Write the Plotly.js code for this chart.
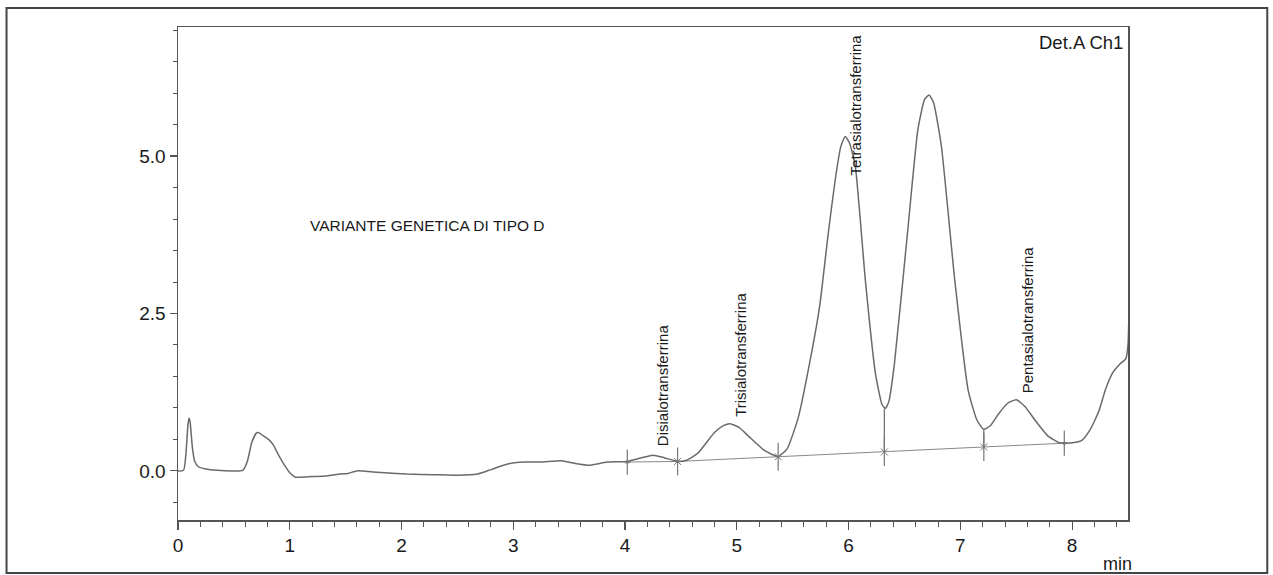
<!DOCTYPE html>
<html>
<head>
<meta charset="utf-8">
<script src="https://cdn.plot.ly/plotly-3.0.1.min.js"></script>
<style>html,body{margin:0;padding:0;background:#fff;}#chart{width:1273px;height:575px;}</style>
</head>
<body>
<div id="chart"></div>
<script>
// Chromatogram trace (time in min, signal)
const timeMin = [0.00,0.05,0.07,0.09,0.10,0.11,0.13,0.15,0.18,0.25,0.35,0.50,0.58,0.62,0.66,0.70,0.72,0.76,0.81,0.85,0.90,0.95,1.00,1.05,1.10,1.20,1.33,1.45,1.52,1.60,1.70,1.85,2.05,2.30,2.50,2.68,2.80,2.95,3.10,3.25,3.43,3.55,3.68,3.84,4.02,4.15,4.25,4.35,4.47,4.55,4.65,4.80,4.88,4.94,5.02,5.10,5.25,5.37,5.45,5.55,5.65,5.74,5.82,5.88,5.93,5.97,6.01,6.06,6.15,6.24,6.30,6.33,6.36,6.41,6.53,6.62,6.68,6.72,6.76,6.83,6.95,7.07,7.15,7.21,7.27,7.34,7.42,7.50,7.58,7.67,7.78,7.88,7.93,8.02,8.09,8.16,8.24,8.30,8.36,8.43,8.48,8.50,8.51,8.52];
const signal  = [0.00,0.01,0.25,0.75,0.84,0.75,0.35,0.15,0.07,0.03,0.01,0.00,0.01,0.15,0.45,0.60,0.61,0.56,0.50,0.42,0.25,0.10,-0.03,-0.10,-0.10,-0.09,-0.08,-0.05,-0.04,0.00,-0.01,-0.03,-0.05,-0.06,-0.07,-0.05,0.02,0.11,0.14,0.14,0.16,0.12,0.09,0.14,0.15,0.21,0.25,0.21,0.15,0.17,0.28,0.61,0.72,0.75,0.69,0.56,0.32,0.23,0.35,0.85,1.70,2.60,3.80,4.62,5.15,5.31,5.20,4.84,3.03,1.55,1.05,0.99,1.10,1.70,3.83,5.42,5.90,5.97,5.85,5.16,3.03,1.28,0.80,0.66,0.72,0.90,1.07,1.13,1.02,0.80,0.56,0.45,0.44,0.45,0.49,0.65,0.95,1.30,1.55,1.70,1.78,2.00,2.60,3.00];

// Integration baseline
const baseX = [4.02,4.47,5.37,6.32,7.21,7.93];
const baseY = [0.14,0.15,0.225,0.30,0.38,0.44];

// Peak separation marks (crossed) and drop lines
const markX = [4.47,5.37,6.32,7.21];
const markY = [0.15,0.225,0.30,0.38];
const dropX = [6.32,7.21];
const dropTop = [0.99,0.66];
const dropBottom = [0.30,0.38];

// Start / end arrows
const startX = [4.02], startY = [0.14];
const endX = [7.93], endY = [0.44];

// Peak labels
const peakNames = ["Disialotransferrina","Trisialotransferrina","Tetrasialotransferrina","Pentasialotransferrina"];
const peakLabelX = [4.33,5.03,6.07,7.60];
const peakLabelY = [0.36,0.83,4.66,1.20];

const xTicks = [0,1,2,3,4,5,6,7,8];
const yTicks = [0,2.5,5.0];

const grey = '#6a6a6a';
const markCol = '#777';
const axisCol = '#555';
const fontFam = 'Liberation Sans, Arial, sans-serif';

// build drop line segments
const dX = [], dY = [];
dropX.forEach((x,i)=>{ dX.push(x,x,null); dY.push(dropTop[i],dropBottom[i],null); });

const traces = [
  {x: baseX, y: baseY, mode:'lines', line:{color:'#888', width:1}, hoverinfo:'skip'},
  {x: dX, y: dY, mode:'lines', line:{color:grey, width:1.2}, hoverinfo:'skip'},
  {x: timeMin, y: signal, mode:'lines', line:{color:grey, width:1.5, shape:'spline', smoothing:0.5}},
  {x: markX, y: markY, mode:'markers', marker:{symbol:'line-ns-open', size:20, color:markCol, line:{color:markCol, width:1.2}}, hoverinfo:'skip'},
  {x: markX, y: markY, mode:'markers', marker:{symbol:'x-thin-open', size:7, color:markCol, line:{color:markCol, width:1}}, hoverinfo:'skip'},
  {x: startX, y: startY, mode:'markers', marker:{symbol:'line-ns-open', size:18, color:markCol, line:{color:markCol, width:1.2}}, hoverinfo:'skip'},
  {x: startX, y: startY, mode:'markers', marker:{symbol:'triangle-up', size:5, color:markCol}, hoverinfo:'skip'},
  {x: endX, y: endY, mode:'markers', marker:{symbol:'line-ns-open', size:18, color:markCol, line:{color:markCol, width:1.2}}, hoverinfo:'skip'},
  {x: endX, y: endY, mode:'markers', marker:{symbol:'triangle-down', size:5, color:markCol}, hoverinfo:'skip'}
];

const annotations = peakNames.map((t,i)=>({
  text: t, x: peakLabelX[i], y: peakLabelY[i], xref:'x', yref:'y',
  showarrow:false, textangle:-90, xanchor:'center', yanchor:'bottom',
  font:{family:fontFam, size:15, color:'#1a1a1a'}
}));
annotations.push({
  text:'VARIANTE GENETICA DI TIPO D', x:1.16, y:3.90, xref:'x', yref:'y',
  showarrow:false, xanchor:'left', yanchor:'middle',
  font:{family:fontFam, size:15.5, color:'#1a1a1a'}
});
annotations.push({
  text:'Det.A Ch1', x:1, y:1, xref:'paper', yref:'paper', xshift:-3, yshift:-3,
  showarrow:false, xanchor:'right', yanchor:'top',
  font:{family:fontFam, size:18.5, color:'#1a1a1a'}
});
annotations.push({
  text:'min', x:1, y:0, xref:'paper', yref:'paper', xshift:6, yshift:-44,
  showarrow:false, xanchor:'right', yanchor:'middle',
  font:{family:fontFam, size:18, color:'#1a1a1a'}
});

const layout = {
  width:1273, height:575,
  margin:{l:178, r:145, t:27, b:55, pad:0},
  paper_bgcolor:'#fff', plot_bgcolor:'#fff',
  showlegend:false,
  font:{family:fontFam, size:19, color:'#1a1a1a'},
  xaxis:{
    range:[0,8.50], tickvals:xTicks, ticktext:xTicks.map(String),
    ticks:'outside', ticklen:8, tickwidth:1.2, tickcolor:axisCol,
    showline:true, linecolor:axisCol, linewidth:1.5, mirror:true,
    showgrid:false, zeroline:false,
    minor:{dtick:0.2, tick0:0, ticks:'outside', ticklen:5, tickcolor:axisCol, tickwidth:1, showgrid:false},
    tickfont:{size:19}
  },
  yaxis:{
    range:[-0.78,7.05], tickvals:yTicks, ticktext:yTicks.map(v=>v.toFixed(1)),
    ticks:'outside', ticklen:7, tickwidth:1.2, tickcolor:axisCol,
    showline:true, linecolor:axisCol, linewidth:1.5, mirror:true,
    showgrid:false, zeroline:false,
    minor:{dtick:0.5, tick0:0, ticks:'outside', ticklen:4, tickcolor:axisCol, tickwidth:1, showgrid:false},
    tickfont:{size:19}
  },
  annotations: annotations,
  shapes:[{
    type:'rect', xref:'paper', yref:'paper',
    x0:-0.1805, x1:1.1466, y0:-0.1075, y1:1.0385,
    line:{color:'#444', width:2}, fillcolor:'rgba(0,0,0,0)', layer:'below'
  }]
};

Plotly.newPlot('chart', traces, layout, {displayModeBar:false, staticPlot:true});
</script>
</body>
</html>
